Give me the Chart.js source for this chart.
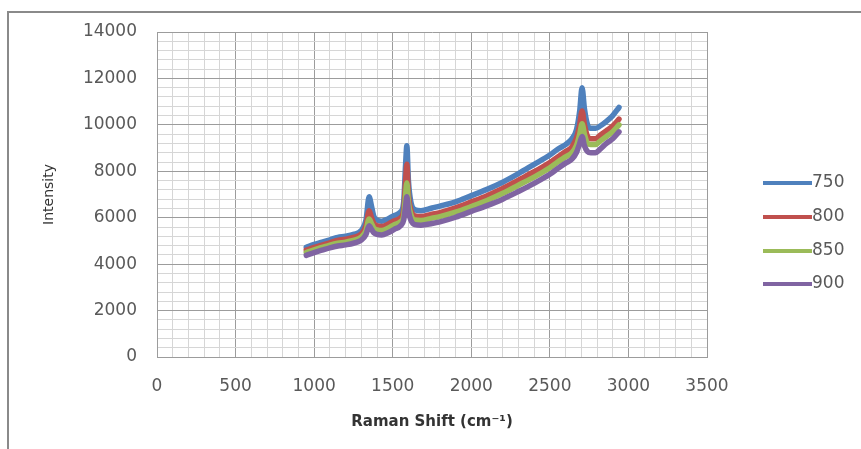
<!DOCTYPE html>
<html>
<head>
<meta charset="utf-8">
<script src="https://cdn.jsdelivr.net/npm/chart.js@4"></script>
<style>
	html, body { margin: 0; padding: 0; background: #fff; }
	#wrap { position: relative; width: 861px; height: 449px; overflow: hidden; }
	#frame { position: absolute; left: 7px; top: 11px; width: 900px; height: 500px; border-top: 2px solid #8a8a8a; border-left: 2px solid #8a8a8a; }
	#raman { position: absolute; left: 0; top: 0; }
</style>
</head>
<body>
<div id="wrap">
	<div id="frame"></div>
	<canvas id="raman" width="861" height="449"></canvas>
</div>
<script>
var shift = [950, 1000, 1050, 1100, 1150, 1200, 1250, 1300, 1330, 1350, 1365, 1380, 1400, 1430, 1470, 1510, 1550, 1570, 1582, 1590, 1600, 1615, 1640, 1680, 1750, 1800, 1900, 2000, 2100, 2200, 2300, 2400, 2500, 2550, 2600, 2640, 2670, 2690, 2705, 2720, 2740, 2760, 2790, 2820, 2860, 2900, 2940];

var labels = ['750', '800', '850', '900'];

var s750 = [4720, 4850, 4950, 5050, 5150, 5200, 5280, 5450, 5900, 6900, 6500, 6050, 5900, 5850, 5950, 6100, 6250, 6700, 8300, 9100, 7600, 6700, 6350, 6300, 6420, 6500, 6680, 6950, 7220, 7530, 7900, 8300, 8700, 8950, 9150, 9400, 9800, 10600, 11600, 10700, 10000, 9850, 9850, 9950, 10150, 10400, 10750];
var s800 = [4600, 4720, 4820, 4920, 5020, 5070, 5150, 5300, 5650, 6300, 6000, 5750, 5650, 5620, 5720, 5870, 6000, 6350, 7600, 8300, 7000, 6350, 6080, 6050, 6150, 6220, 6420, 6680, 6950, 7260, 7620, 7980, 8380, 8620, 8850, 9050, 9450, 10000, 10600, 10000, 9500, 9400, 9400, 9550, 9750, 9950, 10250];
var s850 = [4500, 4620, 4720, 4820, 4900, 4950, 5020, 5170, 5450, 5950, 5750, 5550, 5480, 5450, 5550, 5700, 5830, 6100, 7000, 7500, 6650, 6150, 5900, 5880, 5980, 6050, 6240, 6480, 6740, 7050, 7400, 7750, 8150, 8400, 8620, 8800, 9120, 9600, 10050, 9600, 9200, 9150, 9150, 9300, 9500, 9700, 10000];
var s900 = [4380, 4500, 4600, 4700, 4780, 4830, 4900, 5030, 5280, 5650, 5500, 5350, 5280, 5260, 5350, 5500, 5650, 5900, 6500, 6900, 6300, 5900, 5700, 5680, 5750, 5820, 6020, 6270, 6520, 6800, 7130, 7480, 7870, 8120, 8350, 8520, 8820, 9200, 9500, 9100, 8850, 8800, 8800, 8950, 9200, 9400, 9700];

var colors = ['#4F81BD', '#C0504D', '#9BBB59', '#8064A2'];

function toPoints(values){
	var pts = [];
	for(var i = 0; i < values.length; i++){
		pts.push({x: shift[i], y: values[i]});
	}
	return pts;
}

function getData(label, values, color, order){
	return {
		label: label,
		data: toPoints(values),
		borderColor: color,
		backgroundColor: color,
		borderWidth: 5.5,
		pointRadius: 0,
		cubicInterpolationMode: 'monotone',
		borderJoinStyle: 'round',
		borderCapStyle: 'round',
		order: order
	};
}

// excel style legend on the right, line then label
var sideLegend = {
	id: 'sideLegend',
	afterDraw: function(chart){
		var ctx = chart.ctx;
		var ys = [183, 217, 251, 284];
		ctx.save();
		chart.data.datasets.forEach(function(ds, i){
			ctx.strokeStyle = ds.borderColor;
			ctx.lineWidth = 4;
			ctx.beginPath();
			ctx.moveTo(763, ys[i]);
			ctx.lineTo(812, ys[i]);
			ctx.stroke();
			ctx.fillStyle = '#595959';
			ctx.font = '17px "DejaVu Sans"';
			ctx.textAlign = 'left';
			ctx.textBaseline = 'middle';
			ctx.fillText(ds.label, 812, ys[i]);
		});
		ctx.restore();
	}
};

function gridColor(major){
	return function(c){
		if(c.tick && Math.abs(c.tick.value % major) < 1e-6) return '#9c9c9c';
		return '#d6d6d6';
	};
}

var tickFont = {family: 'DejaVu Sans', size: 17};

new Chart(document.getElementById('raman'), {
	type: 'line',
	data: {
		datasets: [
			getData(labels[0], s750, colors[0], 4),
			getData(labels[1], s800, colors[1], 3),
			getData(labels[2], s850, colors[2], 2),
			getData(labels[3], s900, colors[3], 1)
		]
	},
	options: {
		responsive: false,
		animation: false,
		layout: {padding: {left: 0, top: 32, right: 154, bottom: 0}},
		plugins: {
			legend: {display: false},
			tooltip: {enabled: false}
		},
		scales: {
			x: {
				type: 'linear',
				min: 0,
				max: 3500,
				afterFit: function(axis){ axis.height = 92; },
				grid: {color: gridColor(500), drawTicks: false, lineWidth: 1},
				border: {display: true, color: '#9c9c9c'},
				ticks: {
					stepSize: 100,
					autoSkip: false,
					maxRotation: 0,
					padding: 19,
					color: '#595959',
					font: tickFont,
					callback: function(v){ return v % 500 === 0 ? v : ''; }
				},
				title: {
					display: true,
					text: 'Raman Shift (cm⁻¹)',
					color: '#333',
					font: {family: 'DejaVu Sans', size: 15, weight: 'bold'},
					padding: {top: 0, bottom: 18}
				}
			},
			y: {
				min: 0,
				max: 14000,
				afterFit: function(axis){ axis.width = 157; },
				grid: {color: gridColor(2000), drawTicks: false, lineWidth: 1},
				border: {display: true, color: '#9c9c9c'},
				ticks: {
					stepSize: 400,
					autoSkip: false,
					padding: 20,
					color: '#595959',
					font: tickFont,
					callback: function(v){ return v % 2000 === 0 ? v : ''; }
				},
				title: {
					display: true,
					text: 'Intensity',
					color: '#333',
					font: {family: 'DejaVu Sans', size: 14},
					padding: {top: 41, bottom: 0}
				}
			}
		}
	},
	plugins: [sideLegend]
});
</script>
</body>
</html>
